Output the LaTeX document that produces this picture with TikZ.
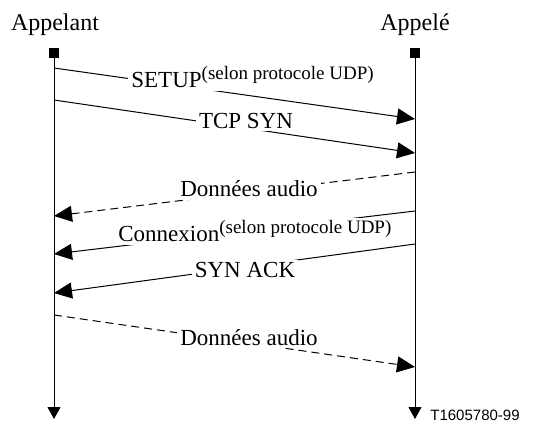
\documentclass[tikz,border=0pt]{standalone}
\usepackage{fontspec}
\setmainfont{Liberation Serif}
\newfontfamily\arialfont{Liberation Sans}
\usetikzlibrary{arrows.meta}
% texte en exposant des messages
\newcommand\protoUDP{{\fontsize{9.5}{10}\selectfont\raisebox{4pt}{(selon protocole UDP)}}}

\begin{document}
\begin{tikzpicture}[
    x=0.5pt, y=-0.5pt, % Une unité = un pixel de l'image
    % Réglages des traits et des flèches
    msg/.style={line width=0.5pt, -{Triangle[length=9pt,width=8pt]}},
    msgtir/.style={msg, dash pattern=on 4pt off 2.5pt},
    vie/.style={line width=0.5pt, -{Triangle[length=6pt,width=6.5pt]}},
    bout/.style={fill=black, minimum size=5pt, inner sep=0pt},
    lbl/.style={fill=white, inner sep=1.5pt, font=\fontsize{11.5}{13}\selectfont},
    titre/.style={inner sep=0pt, font=\fontsize{12}{14}\selectfont}
]
\useasboundingbox (0,0) rectangle (537,423);
% Participants
\node[titre, anchor=base] (appelant) at (55,31) {Appelant};
\node[titre, anchor=base] (appele) at (415,31) {Appelé};
\node[bout] (a0) at (54,53) {};
\node[bout] (b0) at (415,53) {};
\coordinate (a9) at (54,419);
\coordinate (b9) at (415,419);
\draw[vie] (a0.south) -- (a9);
\draw[vie] (b0.south) -- (b9);
% Points d'attache des messages
\coordinate (a1) at (54,68);   \coordinate (b1) at (415,119);
\coordinate (a2) at (54,100);  \coordinate (b2) at (415,153);
\coordinate (b3) at (415,172); \coordinate (a3) at (54,216);
\coordinate (b4) at (415,211); \coordinate (a4) at (54,254);
\coordinate (b5) at (415,244); \coordinate (a5) at (54,293);
\coordinate (a6) at (54,315);  \coordinate (b6) at (415,367);
% Messages
\draw[msg] (a1) -- (b1);
\draw[msg] (a2) -- (b2);
\draw[msgtir] (b3) -- (a3);
\draw[msg] (b4) -- (a4);
\draw[msg] (b5) -- (a5);
\draw[msgtir] (a6) -- (b6);
% Etiquettes
\node[lbl, anchor=base west] (setup) at (128,88) {SETUP\protoUDP};
\node[lbl, anchor=base] (tcpsyn) at (246,128) {TCP SYN};
\node[lbl, anchor=base] (audio1) at (249,197) {Données audio};
\node[lbl, anchor=base west] (connex) at (115,242) {Connexion\protoUDP};
\node[lbl, anchor=base] (synack) at (245,278) {SYN ACK};
\node[lbl, anchor=base] (audio2) at (249,345) {Données audio};
\node[inner sep=0pt, anchor=base west, font=\arialfont\fontsize{7.5}{9}\selectfont] (ref) at (430,421) {T1605780-99};
\end{tikzpicture}
\end{document}
